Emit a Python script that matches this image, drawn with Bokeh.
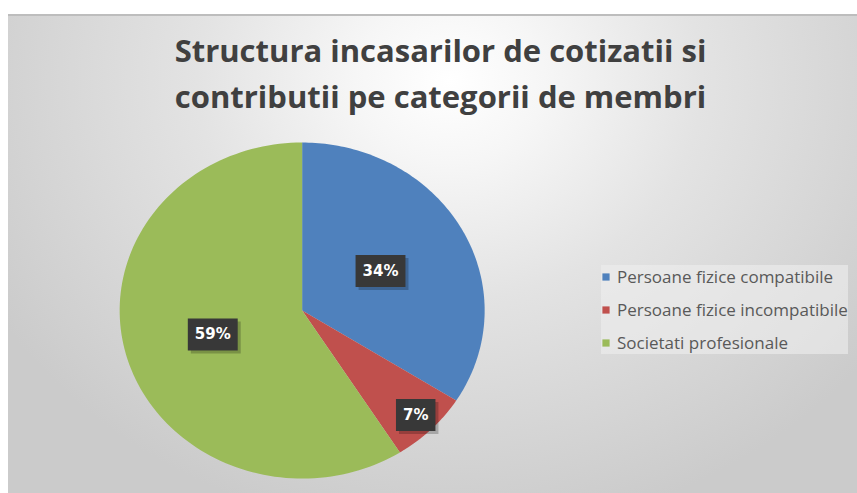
import numpy as np
from bokeh.plotting import figure
from bokeh.models import Range1d, Label, Legend, LegendItem, ColumnDataSource, Spacer
from bokeh.layouts import column, row
from bokeh.core.properties import value
from bokeh.embed import file_html
from bokeh.resources import INLINE

# ---- data ----
title_lines = ["Structura incasarilor de cotizatii si", "contributii pe categorii de membri"]
categories = ["Persoane fizice compatibile", "Persoane fizice incompatibile", "Societati profesionale"]
shares = [34, 7, 59]
label_texts = ["34%", "7%", "59%"]

# ---- styles ----
colors = ["#4f81bd", "#c0504d", "#9bbb59"]
label_radius = [0.49, 0.88, 0.51]

W, H = 849, 479
p = figure(width=W, height=H, output_backend="svg", toolbar_location=None,
           x_range=Range1d(-1.609, 3.043), y_range=Range1d(-1.089, 1.762),
           x_axis_location=None, y_axis_location=None, min_border=0)
p.grid.visible = False
p.outline_line_color = None
p.background_fill_color = None
p.border_fill_color = None
p.styles = {
    "background": "linear-gradient(#bdbdbd, #bdbdbd) top left / 100% 2px no-repeat, "
                  "radial-gradient(ellipse 62% 95% at 52% 14%, #ffffff 0%, #f6f6f6 18%, #e3e3e3 48%, #cbcbcb 100%)"
}

frac = np.array(shares, dtype=float) / sum(shares)
ends = np.cumsum(frac)
starts = ends - frac
xs, ys, lx, ly = [], [], [], []
for s, e, r in zip(starts, ends, label_radius):
    t = np.linspace(s, e, 120)
    ang = np.pi / 2 - 2 * np.pi * t
    xs.append(np.concatenate([[0.0], np.cos(ang)]))
    ys.append(np.concatenate([[0.0], np.sin(ang)]))
    mid = np.pi / 2 - 2 * np.pi * (s + e) / 2
    lx.append(r * np.cos(mid))
    ly.append(r * np.sin(mid))

src = ColumnDataSource(dict(xs=xs, ys=ys, color=colors, cat=categories))
pie = p.patches("xs", "ys", source=src, fill_color="color", line_color=None)

lsrc = ColumnDataSource(dict(x=lx, y=ly, text=label_texts))
# shadow
p.text("x", "y", text="text", source=lsrc, text_alpha=0, text_font=value("DejaVu Sans"),
       text_font_style="bold", text_font_size="15px", text_align="center", text_baseline="middle",
       x_offset=3, y_offset=3, background_fill_color="#000000", background_fill_alpha=0.22, padding=7)
p.text("x", "y", text="text", source=lsrc, text_color="white", text_font=value("DejaVu Sans"),
       text_font_style="bold", text_font_size="15px", text_align="center", text_baseline="middle",
       background_fill_color="#383838", padding=7)

for txt, yy in zip(title_lines, [444, 398]):
    p.add_layout(Label(x=432, y=yy, x_units="screen", y_units="screen", text=txt,
                       text_align="center", text_baseline="alphabetic", text_font="Open Sans",
                       text_font_style="bold", text_font_size="31px", text_color="#404040"))

legend = Legend(items=[LegendItem(label=c, renderers=[pie], index=i) for i, c in enumerate(categories)],
                location=(593, 139), label_text_font="Open Sans", label_text_font_size="17px",
                label_text_color="#595959", glyph_width=9, glyph_height=9, label_standoff=7,
                spacing=10, padding=10, margin=0, label_height=20,
                background_fill_color="#eeeeee", background_fill_alpha=0.6, border_line_color=None)
p.add_layout(legend)

layout = column(Spacer(width=W + 8, height=14), row(Spacer(width=8, height=H), p))
open("out.html", "w").write(file_html(layout, INLINE))
